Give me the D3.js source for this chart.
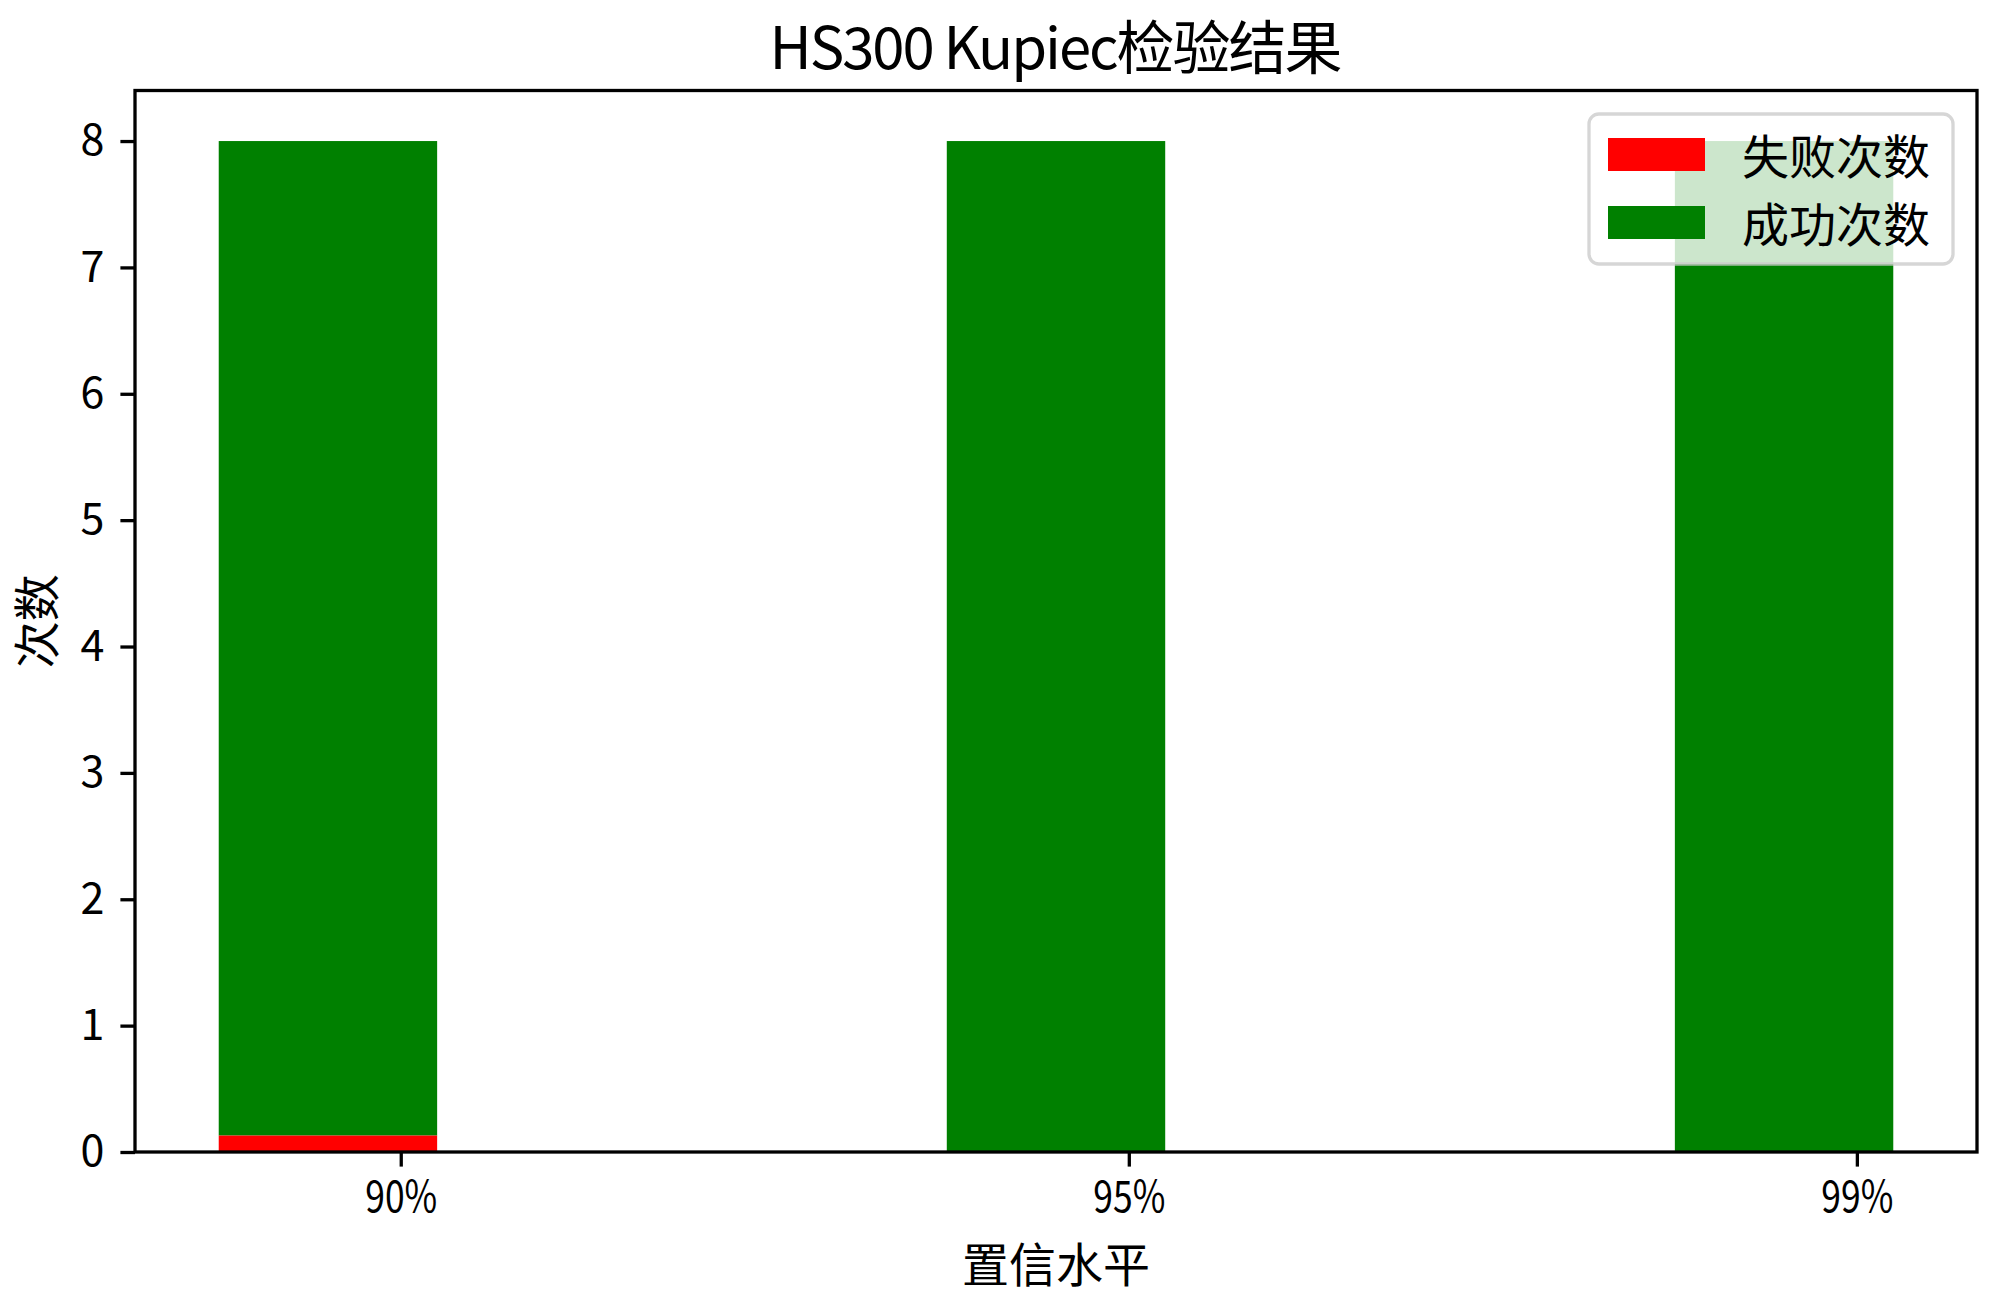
<!DOCTYPE html>
<html>
<head>
<meta charset="utf-8">
<script src="https://cdn.jsdelivr.net/npm/d3@7"></script>
<style>
  html, body { margin: 0; padding: 0; background: #fff; }
</style>
</head>
<body>
<svg id="chart"></svg>
<script>
// Data
const categories = ["90%", "95%", "99%"];
const failCounts = [0.13, 0, 0];
const successCounts = [7.87, 8, 8];
const yTicks = [0, 1, 2, 3, 4, 5, 6, 7, 8];
const seriesNames = ["失败次数", "成功次数"];
const seriesColors = ["#ff0000", "#008000"];

const width = 2000;
const height = 1303;
const fontFamily = "'Noto Sans CJK SC', 'Noto Sans', sans-serif";
const strokeColor = "#000";
const spineWidth = 3.3;

const svg = d3.select("#chart")
  .attr("width", width)
  .attr("height", height)
  .style("font-family", fontFamily);

// Plot area
const plotLeft = 135;
const plotRight = 1977;
const plotTop = 90.5;
const plotBottom = 1152;

// Scales (bars sit at index - 0.1, width 0.3, like the original)
const barOffset = -0.1;
const barWidth = 0.3;
const x = d3.scaleLinear().domain([-0.365, 2.165]).range([plotLeft, plotRight]);
const y = d3.scaleLinear().domain([0, 8.4]).range([plotBottom, plotTop]);

// Success bars (stacked on top of fail)
svg.append("g")
  .selectAll("rect")
  .data(categories)
  .join("rect")
  .attr("x", (d, i) => x(i + barOffset - barWidth / 2))
  .attr("width", (d, i) => x(i + barOffset + barWidth / 2) - x(i + barOffset - barWidth / 2))
  .attr("y", (d, i) => y(failCounts[i] + successCounts[i]))
  .attr("height", (d, i) => y(failCounts[i]) - y(failCounts[i] + successCounts[i]))
  .attr("fill", seriesColors[1]);

// Fail bars
svg.append("g")
  .selectAll("rect")
  .data(categories)
  .join("rect")
  .attr("x", (d, i) => x(i + barOffset - barWidth / 2))
  .attr("width", (d, i) => x(i + barOffset + barWidth / 2) - x(i + barOffset - barWidth / 2))
  .attr("y", (d, i) => y(failCounts[i]))
  .attr("height", (d, i) => y(0) - y(failCounts[i]))
  .attr("fill", seriesColors[0]);

// X axis
const xAxis = svg.append("g")
  .attr("transform", `translate(0,${plotBottom})`)
  .call(d3.axisBottom(x)
    .tickValues(d3.range(categories.length))
    .tickFormat(i => categories[i])
    .tickSize(14.6)
    .tickPadding(15));
xAxis.select(".domain").remove();
xAxis.selectAll(".tick line").attr("stroke", strokeColor).attr("stroke-width", spineWidth);
xAxis.selectAll(".tick text")
  .attr("fill", "#000")
  .attr("font-size", 43)
  .attr("font-family", fontFamily)
  .attr("textLength", 72)
  .attr("lengthAdjust", "spacingAndGlyphs");

// Y axis
const yAxis = svg.append("g")
  .attr("transform", `translate(${plotLeft},0)`)
  .call(d3.axisLeft(y)
    .tickValues(yTicks)
    .tickFormat(d3.format("d"))
    .tickSize(14.6)
    .tickPadding(16));
yAxis.select(".domain").remove();
yAxis.selectAll(".tick line").attr("stroke", strokeColor).attr("stroke-width", spineWidth);
yAxis.selectAll(".tick text")
  .attr("fill", "#000")
  .attr("font-size", 43)
  .attr("font-family", fontFamily);

// Legend (white box with alpha 0.8)
const legend = svg.append("g");
legend.append("rect")
  .attr("x", 1589)
  .attr("y", 114)
  .attr("width", 364)
  .attr("height", 150)
  .attr("rx", 10)
  .attr("fill", "#fff")
  .attr("fill-opacity", 0.8)
  .attr("stroke", "#cccccc")
  .attr("stroke-opacity", 0.8)
  .attr("stroke-width", 3.3);

seriesNames.forEach((name, i) => {
  const rowY = 154.5 + i * 68;
  legend.append("rect")
    .attr("x", 1608)
    .attr("y", rowY - 16.5)
    .attr("width", 97)
    .attr("height", 33)
    .attr("fill", seriesColors[i]);
  legend.append("text")
    .attr("x", 1742)
    .attr("y", rowY + 19)
    .attr("font-size", 47)
    .attr("fill", "#000")
    .text(name);
});

// Spines
svg.append("rect")
  .attr("x", plotLeft)
  .attr("y", plotTop)
  .attr("width", plotRight - plotLeft)
  .attr("height", plotBottom - plotTop)
  .attr("fill", "none")
  .attr("stroke", strokeColor)
  .attr("stroke-width", spineWidth);

// Title
svg.append("text")
  .attr("x", (plotLeft + plotRight) / 2)
  .attr("y", 69)
  .attr("text-anchor", "middle")
  .attr("font-size", 58)
  .attr("fill", "#000")
  .attr("textLength", 573)
  .attr("lengthAdjust", "spacing")
  .text("HS300 Kupiec检验结果");

// Axis labels
svg.append("text")
  .attr("x", (plotLeft + plotRight) / 2)
  .attr("y", 1282)
  .attr("text-anchor", "middle")
  .attr("font-size", 47)
  .attr("fill", "#000")
  .text("置信水平");

svg.append("text")
  .attr("transform", `translate(54,${(plotTop + plotBottom) / 2}) rotate(-90)`)
  .attr("text-anchor", "middle")
  .attr("font-size", 47)
  .attr("fill", "#000")
  .text("次数");
</script>
</body>
</html>
